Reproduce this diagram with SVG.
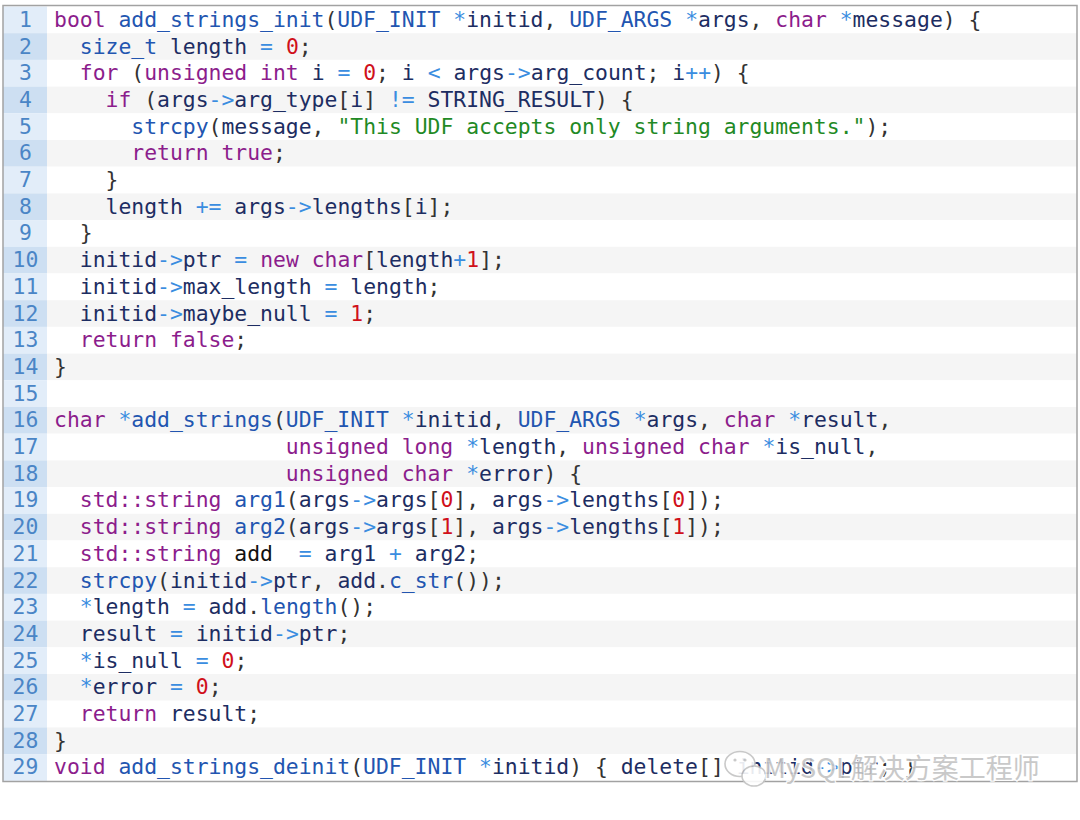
<svg xmlns="http://www.w3.org/2000/svg" width="1080" height="820" viewBox="0 0 1080 820">
<style>
  .code { font-family: "DejaVu Sans Mono", "Liberation Mono", monospace; font-size: 21.4px; fill: #333333; white-space: pre; }
  .ln { font-family: "DejaVu Sans Mono", "Liberation Mono", monospace; font-size: 21.4px; fill: #4a85c6; text-anchor: middle; }
  .k { fill: #8c1d8c; }
  .f { fill: #2255b0; }
  .v { fill: #1d2d62; }
  .o { fill: #3a8de0; }
  .n { fill: #d0101a; }
  .s { fill: #1f8a25; }
  .b { fill: #111111; }
  .rw { fill: #ffffff; }
  .rg { fill: #f5f5f5; }
  .gw { fill: #e2edf9; }
  .gg { fill: #cddff2; }
  .wm { font-family: "Noto Sans CJK SC", "Noto Sans", sans-serif; font-size: 27px; fill: #c4c4c4; stroke: #ffffff; stroke-width: 2.5px; paint-order: stroke; }
</style>
<rect x="0" y="0" width="1080" height="820" fill="#ffffff"/>
<g id="rows">
  <rect class="rw" x="3" y="6.5" width="1074" height="26.7"/>
  <rect class="rg" x="3" y="33.2" width="1074" height="26.7"/>
  <rect class="rw" x="3" y="59.9" width="1074" height="26.7"/>
  <rect class="rg" x="3" y="86.6" width="1074" height="26.7"/>
  <rect class="rw" x="3" y="113.3" width="1074" height="26.7"/>
  <rect class="rg" x="3" y="140" width="1074" height="26.7"/>
  <rect class="rw" x="3" y="166.7" width="1074" height="26.7"/>
  <rect class="rg" x="3" y="193.4" width="1074" height="26.7"/>
  <rect class="rw" x="3" y="220.1" width="1074" height="26.7"/>
  <rect class="rg" x="3" y="246.8" width="1074" height="26.7"/>
  <rect class="rw" x="3" y="273.5" width="1074" height="26.7"/>
  <rect class="rg" x="3" y="300.2" width="1074" height="26.7"/>
  <rect class="rw" x="3" y="326.9" width="1074" height="26.7"/>
  <rect class="rg" x="3" y="353.6" width="1074" height="26.7"/>
  <rect class="rw" x="3" y="380.3" width="1074" height="26.7"/>
  <rect class="rg" x="3" y="407" width="1074" height="26.7"/>
  <rect class="rw" x="3" y="433.7" width="1074" height="26.7"/>
  <rect class="rg" x="3" y="460.4" width="1074" height="26.7"/>
  <rect class="rw" x="3" y="487.1" width="1074" height="26.7"/>
  <rect class="rg" x="3" y="513.8" width="1074" height="26.7"/>
  <rect class="rw" x="3" y="540.5" width="1074" height="26.7"/>
  <rect class="rg" x="3" y="567.2" width="1074" height="26.7"/>
  <rect class="rw" x="3" y="593.9" width="1074" height="26.7"/>
  <rect class="rg" x="3" y="620.6" width="1074" height="26.7"/>
  <rect class="rw" x="3" y="647.3" width="1074" height="26.7"/>
  <rect class="rg" x="3" y="674" width="1074" height="26.7"/>
  <rect class="rw" x="3" y="700.7" width="1074" height="26.7"/>
  <rect class="rg" x="3" y="727.4" width="1074" height="26.7"/>
  <rect class="rw" x="3" y="754.1" width="1074" height="26.7"/>
</g>
<g id="gutter">
  <rect class="gw" x="3" y="6.5" width="44" height="26.7"/>
  <rect class="gg" x="3" y="33.2" width="44" height="26.7"/>
  <rect class="gw" x="3" y="59.9" width="44" height="26.7"/>
  <rect class="gg" x="3" y="86.6" width="44" height="26.7"/>
  <rect class="gw" x="3" y="113.3" width="44" height="26.7"/>
  <rect class="gg" x="3" y="140" width="44" height="26.7"/>
  <rect class="gw" x="3" y="166.7" width="44" height="26.7"/>
  <rect class="gg" x="3" y="193.4" width="44" height="26.7"/>
  <rect class="gw" x="3" y="220.1" width="44" height="26.7"/>
  <rect class="gg" x="3" y="246.8" width="44" height="26.7"/>
  <rect class="gw" x="3" y="273.5" width="44" height="26.7"/>
  <rect class="gg" x="3" y="300.2" width="44" height="26.7"/>
  <rect class="gw" x="3" y="326.9" width="44" height="26.7"/>
  <rect class="gg" x="3" y="353.6" width="44" height="26.7"/>
  <rect class="gw" x="3" y="380.3" width="44" height="26.7"/>
  <rect class="gg" x="3" y="407" width="44" height="26.7"/>
  <rect class="gw" x="3" y="433.7" width="44" height="26.7"/>
  <rect class="gg" x="3" y="460.4" width="44" height="26.7"/>
  <rect class="gw" x="3" y="487.1" width="44" height="26.7"/>
  <rect class="gg" x="3" y="513.8" width="44" height="26.7"/>
  <rect class="gw" x="3" y="540.5" width="44" height="26.7"/>
  <rect class="gg" x="3" y="567.2" width="44" height="26.7"/>
  <rect class="gw" x="3" y="593.9" width="44" height="26.7"/>
  <rect class="gg" x="3" y="620.6" width="44" height="26.7"/>
  <rect class="gw" x="3" y="647.3" width="44" height="26.7"/>
  <rect class="gg" x="3" y="674" width="44" height="26.7"/>
  <rect class="gw" x="3" y="700.7" width="44" height="26.7"/>
  <rect class="gg" x="3" y="727.4" width="44" height="26.7"/>
  <rect class="gw" x="3" y="754.1" width="44" height="26.7"/>
  <text class="ln" x="25.5" y="26.8">1</text>
  <text class="ln" x="25.5" y="53.5">2</text>
  <text class="ln" x="25.5" y="80.2">3</text>
  <text class="ln" x="25.5" y="106.9">4</text>
  <text class="ln" x="25.5" y="133.6">5</text>
  <text class="ln" x="25.5" y="160.3">6</text>
  <text class="ln" x="25.5" y="187">7</text>
  <text class="ln" x="25.5" y="213.7">8</text>
  <text class="ln" x="25.5" y="240.4">9</text>
  <text class="ln" x="25.5" y="267.1">10</text>
  <text class="ln" x="25.5" y="293.8">11</text>
  <text class="ln" x="25.5" y="320.5">12</text>
  <text class="ln" x="25.5" y="347.2">13</text>
  <text class="ln" x="25.5" y="373.9">14</text>
  <text class="ln" x="25.5" y="400.6">15</text>
  <text class="ln" x="25.5" y="427.3">16</text>
  <text class="ln" x="25.5" y="454">17</text>
  <text class="ln" x="25.5" y="480.7">18</text>
  <text class="ln" x="25.5" y="507.4">19</text>
  <text class="ln" x="25.5" y="534.1">20</text>
  <text class="ln" x="25.5" y="560.8">21</text>
  <text class="ln" x="25.5" y="587.5">22</text>
  <text class="ln" x="25.5" y="614.2">23</text>
  <text class="ln" x="25.5" y="640.9">24</text>
  <text class="ln" x="25.5" y="667.6">25</text>
  <text class="ln" x="25.5" y="694.3">26</text>
  <text class="ln" x="25.5" y="721">27</text>
  <text class="ln" x="25.5" y="747.7">28</text>
  <text class="ln" x="25.5" y="774.4">29</text>
</g>
<g id="code">
<text class="code" x="54" y="26.8" xml:space="preserve"><tspan class="k">bool</tspan> <tspan class="f">add_strings_init</tspan>(<tspan class="f">UDF_INIT</tspan> <tspan class="o">*</tspan><tspan class="v">initid</tspan>, <tspan class="f">UDF_ARGS</tspan> <tspan class="o">*</tspan><tspan class="v">args</tspan>, <tspan class="k">char</tspan> <tspan class="o">*</tspan><tspan class="v">message</tspan>) {</text>
<text class="code" x="54" y="53.5" xml:space="preserve">  <tspan class="f">size_t</tspan> <tspan class="v">length</tspan> <tspan class="o">=</tspan> <tspan class="n">0</tspan>;</text>
<text class="code" x="54" y="80.2" xml:space="preserve">  <tspan class="k">for</tspan> (<tspan class="k">unsigned</tspan> <tspan class="k">int</tspan> <tspan class="v">i</tspan> <tspan class="o">=</tspan> <tspan class="n">0</tspan>; <tspan class="v">i</tspan> <tspan class="o">&lt;</tspan> <tspan class="v">args</tspan><tspan class="o">-&gt;</tspan><tspan class="v">arg_count</tspan>; <tspan class="v">i</tspan><tspan class="o">++</tspan>) {</text>
<text class="code" x="54" y="106.9" xml:space="preserve">    <tspan class="k">if</tspan> (<tspan class="v">args</tspan><tspan class="o">-&gt;</tspan><tspan class="v">arg_type</tspan>[<tspan class="v">i</tspan>] <tspan class="o">!=</tspan> <tspan class="v">STRING_RESULT</tspan>) {</text>
<text class="code" x="54" y="133.6" xml:space="preserve">      <tspan class="f">strcpy</tspan>(<tspan class="v">message</tspan>, <tspan class="s">"This UDF accepts only string arguments."</tspan>);</text>
<text class="code" x="54" y="160.3" xml:space="preserve">      <tspan class="k">return</tspan> <tspan class="k">true</tspan>;</text>
<text class="code" x="54" y="187" xml:space="preserve">    }</text>
<text class="code" x="54" y="213.7" xml:space="preserve">    <tspan class="v">length</tspan> <tspan class="o">+=</tspan> <tspan class="v">args</tspan><tspan class="o">-&gt;</tspan><tspan class="v">lengths</tspan>[<tspan class="v">i</tspan>];</text>
<text class="code" x="54" y="240.4" xml:space="preserve">  }</text>
<text class="code" x="54" y="267.1" xml:space="preserve">  <tspan class="v">initid</tspan><tspan class="o">-&gt;</tspan><tspan class="v">ptr</tspan> <tspan class="o">=</tspan> <tspan class="k">new</tspan> <tspan class="k">char</tspan>[<tspan class="v">length</tspan><tspan class="o">+</tspan><tspan class="n">1</tspan>];</text>
<text class="code" x="54" y="293.8" xml:space="preserve">  <tspan class="v">initid</tspan><tspan class="o">-&gt;</tspan><tspan class="v">max_length</tspan> <tspan class="o">=</tspan> <tspan class="v">length</tspan>;</text>
<text class="code" x="54" y="320.5" xml:space="preserve">  <tspan class="v">initid</tspan><tspan class="o">-&gt;</tspan><tspan class="v">maybe_null</tspan> <tspan class="o">=</tspan> <tspan class="n">1</tspan>;</text>
<text class="code" x="54" y="347.2" xml:space="preserve">  <tspan class="k">return</tspan> <tspan class="k">false</tspan>;</text>
<text class="code" x="54" y="373.9" xml:space="preserve">}</text>
<text class="code" x="54" y="427.3" xml:space="preserve"><tspan class="k">char</tspan> <tspan class="o">*</tspan><tspan class="f">add_strings</tspan>(<tspan class="f">UDF_INIT</tspan> <tspan class="o">*</tspan><tspan class="v">initid</tspan>, <tspan class="f">UDF_ARGS</tspan> <tspan class="o">*</tspan><tspan class="v">args</tspan>, <tspan class="k">char</tspan> <tspan class="o">*</tspan><tspan class="v">result</tspan>,</text>
<text class="code" x="54" y="454" xml:space="preserve">                  <tspan class="k">unsigned</tspan> <tspan class="k">long</tspan> <tspan class="o">*</tspan><tspan class="v">length</tspan>, <tspan class="k">unsigned</tspan> <tspan class="k">char</tspan> <tspan class="o">*</tspan><tspan class="v">is_null</tspan>,</text>
<text class="code" x="54" y="480.7" xml:space="preserve">                  <tspan class="k">unsigned</tspan> <tspan class="k">char</tspan> <tspan class="o">*</tspan><tspan class="v">error</tspan>) {</text>
<text class="code" x="54" y="507.4" xml:space="preserve">  <tspan class="k">std::string</tspan> <tspan class="f">arg1</tspan>(<tspan class="v">args</tspan><tspan class="o">-&gt;</tspan><tspan class="v">args</tspan>[<tspan class="n">0</tspan>], <tspan class="v">args</tspan><tspan class="o">-&gt;</tspan><tspan class="v">lengths</tspan>[<tspan class="n">0</tspan>]);</text>
<text class="code" x="54" y="534.1" xml:space="preserve">  <tspan class="k">std::string</tspan> <tspan class="f">arg2</tspan>(<tspan class="v">args</tspan><tspan class="o">-&gt;</tspan><tspan class="v">args</tspan>[<tspan class="n">1</tspan>], <tspan class="v">args</tspan><tspan class="o">-&gt;</tspan><tspan class="v">lengths</tspan>[<tspan class="n">1</tspan>]);</text>
<text class="code" x="54" y="560.8" xml:space="preserve">  <tspan class="k">std::string</tspan> <tspan class="b">add</tspan>  <tspan class="o">=</tspan> <tspan class="v">arg1</tspan> <tspan class="o">+</tspan> <tspan class="v">arg2</tspan>;</text>
<text class="code" x="54" y="587.5" xml:space="preserve">  <tspan class="f">strcpy</tspan>(<tspan class="v">initid</tspan><tspan class="o">-&gt;</tspan><tspan class="v">ptr</tspan>, <tspan class="v">add</tspan>.<tspan class="f">c_str</tspan>());</text>
<text class="code" x="54" y="614.2" xml:space="preserve">  <tspan class="o">*</tspan><tspan class="v">length</tspan> <tspan class="o">=</tspan> <tspan class="v">add</tspan>.<tspan class="f">length</tspan>();</text>
<text class="code" x="54" y="640.9" xml:space="preserve">  <tspan class="v">result</tspan> <tspan class="o">=</tspan> <tspan class="v">initid</tspan><tspan class="o">-&gt;</tspan><tspan class="v">ptr</tspan>;</text>
<text class="code" x="54" y="667.6" xml:space="preserve">  <tspan class="o">*</tspan><tspan class="v">is_null</tspan> <tspan class="o">=</tspan> <tspan class="n">0</tspan>;</text>
<text class="code" x="54" y="694.3" xml:space="preserve">  <tspan class="o">*</tspan><tspan class="v">error</tspan> <tspan class="o">=</tspan> <tspan class="n">0</tspan>;</text>
<text class="code" x="54" y="721" xml:space="preserve">  <tspan class="k">return</tspan> <tspan class="v">result</tspan>;</text>
<text class="code" x="54" y="747.7" xml:space="preserve">}</text>
<text class="code" x="54" y="774.4" xml:space="preserve"><tspan class="k">void</tspan> <tspan class="f">add_strings_deinit</tspan>(<tspan class="f">UDF_INIT</tspan> <tspan class="o">*</tspan><tspan class="v">initid</tspan>) { <tspan class="v">delete</tspan>[] <tspan class="v">initid</tspan><tspan class="o">-&gt;</tspan><tspan class="v">ptr</tspan>; }</text>
</g>
<rect id="frame" x="3" y="5.5" width="1074" height="776" fill="none" stroke="#a2a2a2" stroke-width="1.5"/>
<g id="watermark" opacity="0.9">
  <ellipse cx="740" cy="764" rx="15" ry="12.5" fill="#ffffff" stroke="#c4c4c4" stroke-width="1.6"/>
  <ellipse cx="754" cy="776" rx="12" ry="10" fill="#ffffff" stroke="#c4c4c4" stroke-width="1.6"/>
  <circle cx="735" cy="760" r="1.6" fill="#c4c4c4"/>
  <circle cx="745" cy="760" r="1.6" fill="#c4c4c4"/>
  <text class="wm" x="764" y="778">MySQL解决方案工程师</text>
</g>
</svg>
